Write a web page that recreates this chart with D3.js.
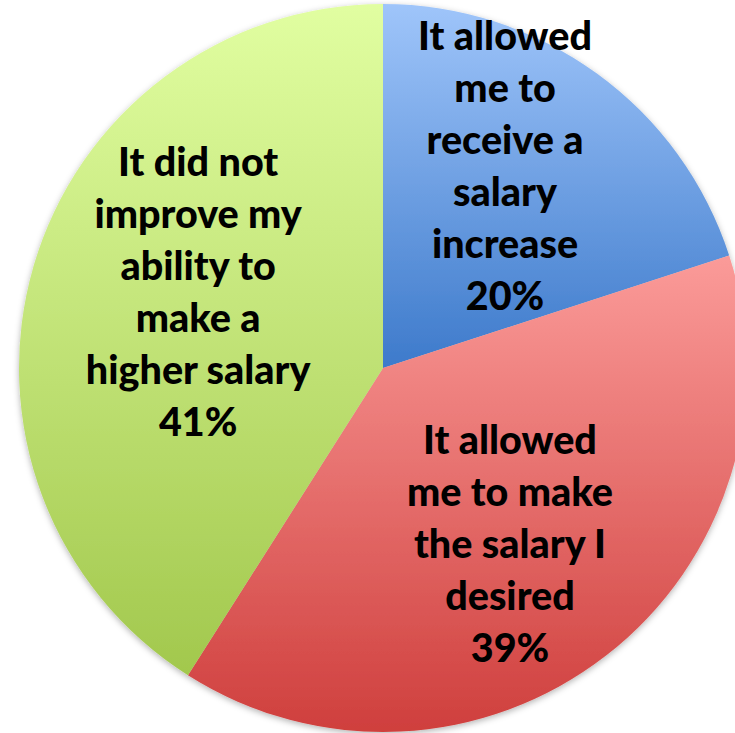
<!DOCTYPE html>
<html>
<head>
<meta charset="utf-8">
<script src="https://cdn.jsdelivr.net/npm/d3@7"></script>
<style>
  html, body { margin: 0; padding: 0; background: #fff; overflow: hidden; }
  svg { display: block; }
</style>
</head>
<body>
<svg id="chart" width="735" height="733"></svg>
<script>
// Survey answers, in the order the slices run clockwise from twelve o'clock
const categories = [
  "It allowed me to receive a salary increase",
  "It allowed me to make the salary I desired",
  "It did not improve my ability to make a higher salary"
];
const shares = [20, 39, 41];
// How each category label breaks over lines
const labelLines = [
  ["It allowed", "me to", "receive a", "salary", "increase"],
  ["It allowed", "me to make", "the salary I", "desired"],
  ["It did not", "improve my", "ability to", "make a", "higher salary"]
];
// Gradient stops (top, bottom) per slice
const colorTop = ["#9fc5fa", "#fb9b99", "#e1fea1"];
const colorBottom = ["#3d7acb", "#cf3f3d", "#a2c84d"];

const width = 735, height = 733;
const cx = 383, cy = 368, radius = 364;

// Label placement: polar angle (degrees clockwise from top) and distance from the centre
const labelPlace = [
  { angle: 32.2, dist: 229 },
  { angle: 145.4, dist: 223.6 },
  { angle: 290.2, dist: 197 }
];
const lineHeight = 52;

const svg = d3.select("#chart");
const defs = svg.append("defs");

const shadow = defs.append("filter").attr("id", "pieShadow")
  .attr("x", "-10%").attr("y", "-10%").attr("width", "120%").attr("height", "120%");
shadow.append("feDropShadow")
  .attr("dx", 0).attr("dy", 2).attr("stdDeviation", 3)
  .attr("flood-color", "#000").attr("flood-opacity", 0.3);

categories.forEach((c, i) => {
  const g = defs.append("linearGradient").attr("id", "grad" + i)
    .attr("x1", 0).attr("y1", 0).attr("x2", 0).attr("y2", 1);
  g.append("stop").attr("offset", "0%").attr("stop-color", colorTop[i]);
  g.append("stop").attr("offset", "100%").attr("stop-color", colorBottom[i]);
});

const data = categories.map((c, i) => ({ category: c, value: shares[i], index: i }));

const pie = d3.pie().value(d => d.value).sort(null);
const arc = d3.arc().innerRadius(0).outerRadius(radius);

const root = svg.append("g").attr("transform", `translate(${cx},${cy})`);

root.append("g").attr("filter", "url(#pieShadow)")
  .selectAll("path")
  .data(pie(data))
  .join("path")
  .attr("d", arc)
  .attr("fill", d => `url(#grad${d.data.index})`);

const labels = root.append("g")
  .attr("font-family", "Lato, 'Open Sans', sans-serif")
  .attr("font-weight", 900)
  .attr("font-size", 39.5)
  .attr("fill", "#000")
  .attr("text-anchor", "middle");

pie(data).forEach(d => {
  const i = d.data.index;
  const p = labelPlace[i];
  const a = p.angle * Math.PI / 180;
  const x = Math.sin(a) * p.dist;
  const y = -Math.cos(a) * p.dist;
  const lines = labelLines[i].concat([d3.format(".0f")(d.data.value) + "%"]);
  const startY = y - (lines.length - 1) * lineHeight / 2 + 6;
  const t = labels.append("text");
  lines.forEach((ln, k) => {
    t.append("tspan").attr("x", x).attr("y", startY + k * lineHeight).text(ln);
  });
});
</script>
</body>
</html>
